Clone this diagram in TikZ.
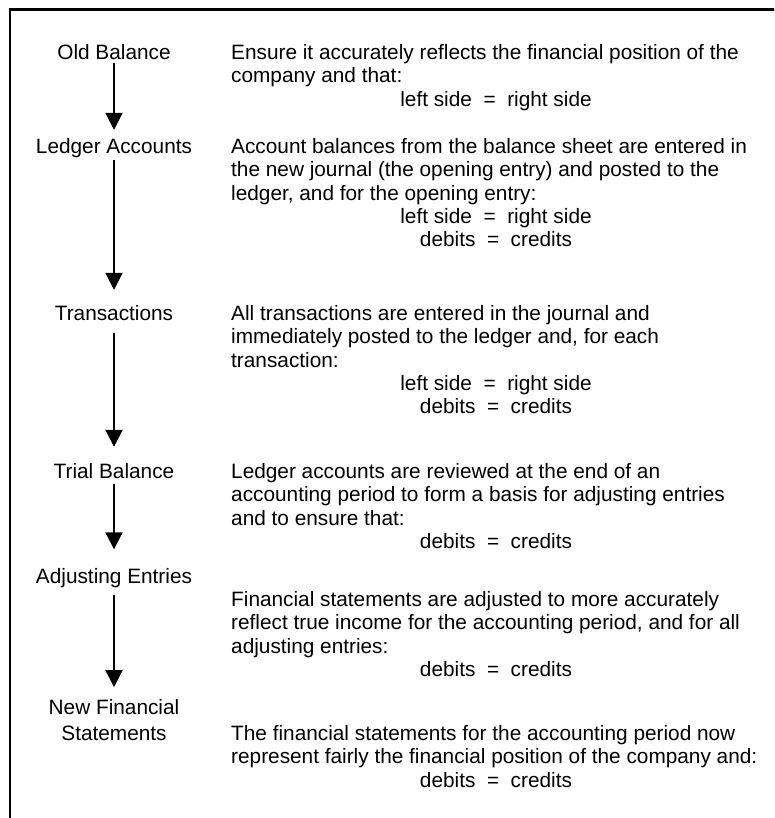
\documentclass[tikz,border=0pt]{standalone}
\usepackage{fontspec}
\setmainfont{Liberation Sans}
\usetikzlibrary{arrows.meta}
\begin{document}
\begin{tikzpicture}[x=1pt,y=-1pt,
  txt/.style={inner sep=0pt,font=\fontsize{20.8}{23.3}\selectfont},
  lbl/.style={txt,anchor=base,text height=15pt,text depth=5pt},
  para/.style={txt,anchor=base west},
  eqn/.style={txt,anchor=base},
  arr/.style={line width=2pt,-{Triangle[width=17pt,length=17pt]}},
  frame/.style={line width=2.3pt}]
\useasboundingbox (0,0) rectangle (774,818);
\clip (0,0) rectangle (774,818);
\draw[frame] (10.3,830) -- (10.3,9.5) -- (790,9.5);
% left labels
\node[lbl] (ob) at (114,59.5) {Old Balance};
\node[lbl] (la) at (114,153.5) {Ledger Accounts};
\node[lbl] (tr) at (114,320.5) {Transactions};
\node[lbl] (tb) at (114,478.5) {Trial Balance};
\node[lbl] (ae) at (114,583.5) {Adjusting Entries};
\node[lbl] (nf) at (114,714.8) {New Financial};
\node[lbl] (st) at (114,740.5) {Statements};
% arrows
\draw[arr,shorten <=-1.5pt,shorten >=8.5pt] (ob.south) -- (la.north);
\draw[arr,shorten <=1.5pt,shorten >=15.5pt] (la.south) -- (tr.north);
\draw[arr,shorten <=7.5pt,shorten >=16.5pt] (tr.south) -- (tb.north);
\draw[arr,shorten <=0pt,shorten >=19pt] (tb.south) -- (ae.north);
\draw[arr,shorten <=6pt,shorten >=12.5pt] (ae.south) -- (nf.north);
% block 1
\node[para] (p1a) at (231,59.5) {Ensure it accurately reflects the financial position of the};
\node[para] (p1b) at (231,82.8) {company and that:};
\node[eqn] (e1a) at (496,106.1) {left side \ =\ \ right side};
% block 2
\node[para] (p2a) at (231,153.5) {Account balances from the balance sheet are entered in};
\node[para] (p2b) at (231,176.8) {the new journal (the opening entry) and posted to the};
\node[para] (p2c) at (231,200.1) {ledger, and for the opening entry:};
\node[eqn] (e2a) at (496,223.4) {left side \ =\ \ right side};
\node[eqn] (e2b) at (496,246.7) {debits \ =\ \ credits};
% block 3
\node[para] (p3a) at (231,320.5) {All transactions are entered in the journal and};
\node[para] (p3b) at (231,343.8) {immediately posted to the ledger and, for each};
\node[para] (p3c) at (231,367.1) {transaction:};
\node[eqn] (e3a) at (496,390.4) {left side \ =\ \ right side};
\node[eqn] (e3b) at (496,413.7) {debits \ =\ \ credits};
% block 4
\node[para] (p4a) at (231,478.5) {Ledger accounts are reviewed at the end of an};
\node[para] (p4b) at (231,501.8) {accounting period to form a basis for adjusting entries};
\node[para] (p4c) at (231,525.1) {and to ensure that:};
\node[eqn] (e4a) at (496,548.4) {debits \ =\ \ credits};
% block 5
\node[para] (p5a) at (231,606.5) {Financial statements are adjusted to more accurately};
\node[para] (p5b) at (231,629.8) {reflect true income for the accounting period, and for all};
\node[para] (p5c) at (231,653.1) {adjusting entries:};
\node[eqn] (e5a) at (496,676.4) {debits \ =\ \ credits};
% block 6
\node[para] (p6a) at (231,740.5) {The financial statements for the accounting period now};
\node[para] (p6b) at (231,763.8) {represent fairly the financial position of the company and:};
\node[eqn] (e6a) at (496,787.1) {debits \ =\ \ credits};
\end{tikzpicture}
\end{document}
